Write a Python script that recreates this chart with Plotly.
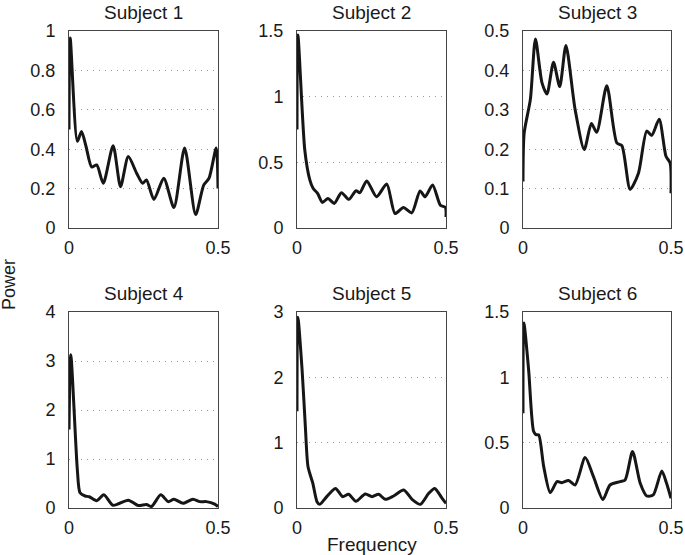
import plotly.graph_objects as go

titles = ["Subject 1", "Subject 2", "Subject 3", "Subject 4", "Subject 5", "Subject 6"]

freq1 = [0.0, 0.004, 0.028, 0.042, 0.057, 0.076, 0.093, 0.115, 0.148, 0.173, 0.199, 0.227, 0.247, 0.26, 0.285, 0.318, 0.352, 0.388, 0.425, 0.452, 0.47, 0.494, 0.5]
pow1 = [0.5, 0.964, 0.44, 0.49, 0.415, 0.31, 0.32, 0.227, 0.418, 0.21, 0.363, 0.278, 0.227, 0.244, 0.145, 0.253, 0.104, 0.406, 0.068, 0.218, 0.253, 0.406, 0.2]

freq2 = [0.0, 0.003, 0.026, 0.043, 0.054, 0.069, 0.085, 0.104, 0.125, 0.149, 0.174, 0.198, 0.211, 0.234, 0.267, 0.301, 0.329, 0.357, 0.385, 0.413, 0.43, 0.455, 0.481, 0.498, 0.5]
pow2 = [0.75, 1.47, 0.596, 0.366, 0.302, 0.264, 0.195, 0.225, 0.187, 0.269, 0.218, 0.284, 0.269, 0.358, 0.238, 0.335, 0.11, 0.156, 0.115, 0.282, 0.238, 0.328, 0.174, 0.156, 0.084]

freq3 = [0.0, 0.004, 0.025, 0.042, 0.064, 0.081, 0.103, 0.124, 0.145, 0.176, 0.207, 0.231, 0.249, 0.283, 0.317, 0.334, 0.362, 0.39, 0.418, 0.435, 0.46, 0.483, 0.497, 0.5]
pow3 = [0.118, 0.241, 0.327, 0.48, 0.369, 0.34, 0.421, 0.359, 0.463, 0.301, 0.199, 0.265, 0.243, 0.361, 0.216, 0.209, 0.098, 0.139, 0.246, 0.235, 0.276, 0.182, 0.165, 0.088]

freq4 = [0.0, 0.006, 0.028, 0.037, 0.054, 0.068, 0.093, 0.117, 0.148, 0.199, 0.232, 0.26, 0.277, 0.308, 0.333, 0.352, 0.383, 0.416, 0.439, 0.461, 0.489, 0.5]
pow4 = [1.6, 3.13, 0.78, 0.31, 0.245, 0.23, 0.15, 0.27, 0.055, 0.16, 0.05, 0.07, 0.03, 0.27, 0.13, 0.18, 0.095, 0.18, 0.13, 0.13, 0.08, 0.03]

freq5 = [0.0, 0.003, 0.017, 0.028, 0.037, 0.053, 0.067, 0.076, 0.095, 0.129, 0.153, 0.173, 0.198, 0.229, 0.252, 0.274, 0.296, 0.324, 0.358, 0.386, 0.414, 0.442, 0.462, 0.487, 0.5]
pow5 = [1.48, 2.92, 2.12, 1.25, 0.63, 0.38, 0.097, 0.056, 0.148, 0.3, 0.174, 0.21, 0.102, 0.215, 0.174, 0.21, 0.133, 0.184, 0.276, 0.133, 0.056, 0.225, 0.3, 0.148, 0.07]

freq6 = [0.0, 0.003, 0.019, 0.036, 0.045, 0.053, 0.07, 0.092, 0.115, 0.131, 0.154, 0.176, 0.21, 0.238, 0.27, 0.294, 0.328, 0.345, 0.37, 0.396, 0.418, 0.44, 0.469, 0.485, 0.5]
pow6 = [0.726, 1.416, 1.058, 0.585, 0.56, 0.56, 0.317, 0.118, 0.202, 0.194, 0.21, 0.176, 0.386, 0.24, 0.066, 0.176, 0.202, 0.215, 0.432, 0.189, 0.092, 0.1, 0.284, 0.189, 0.074]

freqs = [freq1, freq2, freq3, freq4, freq5, freq6]
powers = [pow1, pow2, pow3, pow4, pow5, pow6]

y_max = [1, 1.5, 0.5, 4, 3, 1.5]
y_dtick = [0.2, 0.5, 0.1, 1, 1, 0.5]
x_ticks = [0, 0.5]

W, H = 685, 555
x_dom_px = [(69, 218), (297, 446), (523, 671)]
y_dom_px = [(31, 228), (312, 508)]

FONT = "Liberation Sans, Arial, sans-serif"
TXT = "#1a1a1a"

fig = go.Figure()
layout = dict(
    template="none",
    width=W, height=H, autosize=False,
    margin=dict(l=0, r=0, t=0, b=0, pad=0, autoexpand=False),
    paper_bgcolor="white", plot_bgcolor="white",
    showlegend=False,
    font=dict(family=FONT, size=18, color=TXT),
)
annotations = []
for i in range(6):
    r, c = divmod(i, 3)
    xs = "" if i == 0 else str(i + 1)
    x0, x1 = x_dom_px[c]
    yt, yb = y_dom_px[r]
    fig.add_trace(go.Scatter(
        x=freqs[i], y=powers[i], mode="lines",
        line=dict(color="#161616", width=3, shape="spline", smoothing=0.7),
        xaxis="x" + xs, yaxis="y" + xs, hoverinfo="skip",
    ))
    layout["xaxis" + xs] = dict(
        domain=[x0 / W, x1 / W], anchor="y" + xs, range=[0, 0.5], automargin=False,
        tickvals=x_ticks, ticktext=["0", "0.5"], showgrid=False, zeroline=False,
        showline=True, linecolor="#444", linewidth=1, mirror=True, ticks="",
        ticklabelstandoff=3,
        tickfont=dict(size=18, color=TXT), fixedrange=True,
    )
    layout["yaxis" + xs] = dict(
        domain=[1 - yb / H, 1 - yt / H], anchor="x" + xs, range=[0, y_max[i]], automargin=False,
        dtick=y_dtick[i], tick0=0, showgrid=True, gridcolor="#9a9a9a", griddash="1px,5px",
        gridwidth=1, zeroline=False, showline=True, linecolor="#444", linewidth=1,
        mirror=True, ticks="", ticklabelstandoff=9,
        tickfont=dict(size=18, color=TXT), fixedrange=True,
    )
    annotations.append(dict(
        text=titles[i], x=(x0 + x1) / 2 / W, y=1 - (yt - 19) / H,
        xref="paper", yref="paper", showarrow=False, xanchor="center", yanchor="middle",
        font=dict(size=19, color=TXT, family=FONT),
    ))

annotations.append(dict(text="Power", x=9 / W, y=1 - 285 / H, xref="paper", yref="paper",
                        showarrow=False, textangle=-90, xanchor="center", yanchor="middle",
                        font=dict(size=18, color=TXT, family=FONT)))
annotations.append(dict(text="Frequency", x=372 / W, y=1 - 544 / H, xref="paper", yref="paper",
                        showarrow=False, xanchor="center", yanchor="middle",
                        font=dict(size=19, color=TXT, family=FONT)))
layout["annotations"] = annotations
fig.update_layout(**layout)
fig.write_html(
    "out.html",
    config={"displayModeBar": False, "responsive": False},
    post_script="document.body.style.margin='0';document.body.style.overflow='hidden';"
                "document.documentElement.style.overflow='hidden';",
)
